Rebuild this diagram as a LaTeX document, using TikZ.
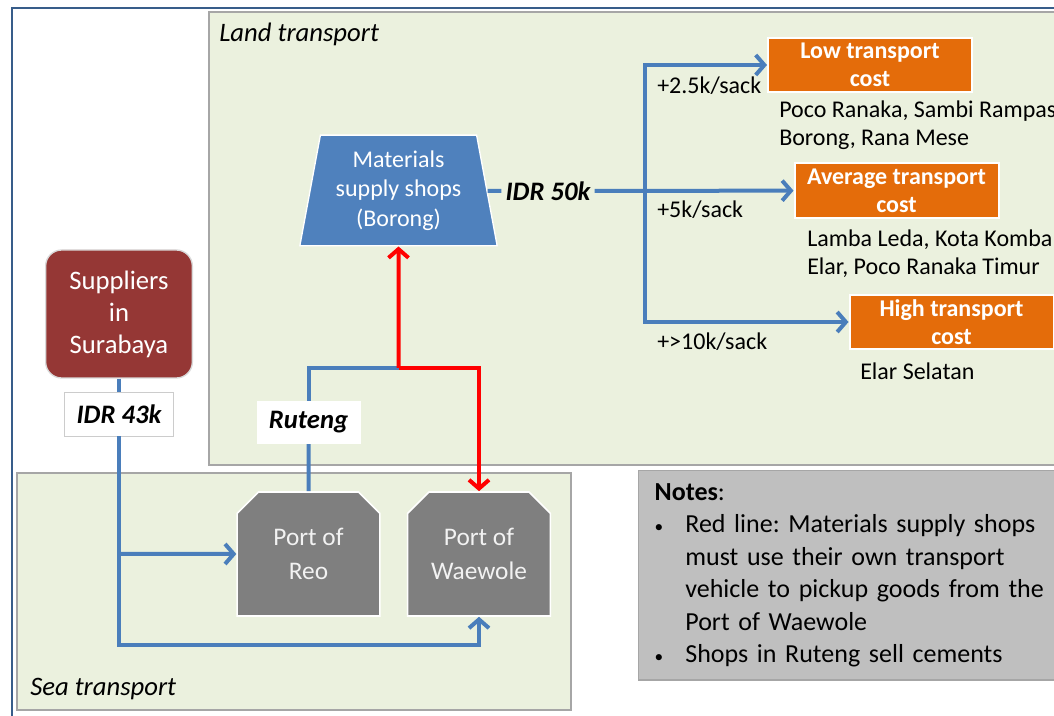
\documentclass[tikz,border=0pt]{standalone}
\usepackage{fontspec}
\setmainfont{Carlito}
\usetikzlibrary{arrows.meta,shapes.geometric,shapes.misc,positioning,calc}
\definecolor{zonefill}{HTML}{EBF1DE}
\definecolor{zoneline}{HTML}{A6A6A6}
\definecolor{shopblue}{HTML}{4F81BD}
\definecolor{lineblue}{HTML}{4A7EBB}
\definecolor{costorange}{HTML}{E46C0A}
\definecolor{supred}{HTML}{953735}
\definecolor{portgray}{HTML}{7F7F7F}
\definecolor{porttext}{HTML}{F2F2F2}
\definecolor{notegray}{HTML}{BFBFBF}
\definecolor{frameblue}{HTML}{385D8A}
\newcommand\notebullet{\makebox[23pt][l]{\fontsize{13}{13}\selectfont\textbullet}}
\frenchspacing

\begin{document}
\begin{tikzpicture}[x=0.75pt, y=-0.75pt,
    zone/.style={draw=zoneline, fill=zonefill, line width=1pt},
    zonelbl/.style={anchor=west, inner sep=0pt, font=\fontsize{20}{24}\selectfont\itshape},
    shopbox/.style={trapezium, trapezium left angle=75.5, trapezium right angle=75.5, trapezium stretches body,
        minimum width=148pt, minimum height=83pt, inner sep=0pt, fill=shopblue, draw=white, line width=1pt,
        text=white, align=center, font=\fontsize{18}{22}\selectfont},
    portbox/.style={chamfered rectangle, chamfered rectangle corners={north west,north east},
        chamfered rectangle xsep=5pt, chamfered rectangle ysep=11pt, minimum width=107pt, minimum height=93pt,
        inner sep=0pt, fill=portgray, draw=white, line width=1.2pt, text=porttext, align=center,
        font=\fontsize{19}{25.5}\selectfont},
    supbox/.style={rounded corners=12pt, minimum width=110pt, minimum height=96pt, fill=supred,
        draw=black!15, line width=1pt, text=white, align=center, font=\fontsize{20}{24}\selectfont},
    costbox/.style={minimum width=153pt, minimum height=41pt, inner sep=0pt, fill=costorange, draw=white,
        line width=1.5pt, text=white, align=center, font=\fontsize{18}{21}\selectfont\bfseries},
    pricebox/.style={inner sep=3pt, font=\fontsize{20}{24}\selectfont\bfseries\itshape},
    town/.style={anchor=west, inner sep=0pt, align=left, font=\fontsize{18}{21}\selectfont},
    rate/.style={anchor=west, inner sep=0pt, font=\fontsize{18}{21}\selectfont},
    link/.style={draw=lineblue, line width=3pt},
    arr/.style={link, -{Straight Barb[length=6.5pt,width=15pt]}},
    redarr/.style={draw=red, line width=3pt, -{Straight Barb[length=6.5pt,width=15pt]}},
    notebox/.style={anchor=north west, fill=notegray, draw=zoneline, line width=1pt, minimum width=324pt,
        minimum height=157pt, inner xsep=9.75pt, text width=300pt, align=left, font=\fontsize{19.5}{24.4}\selectfont}
]
\useasboundingbox (0,0) rectangle (1054,716);
\fill[white] (0,0) rectangle (1054,716);
\draw[frameblue, line width=2pt] (12,740) -- (12,8) -- (1080,8);

% zones
\draw[zone] (209,12) rectangle (1080,465);
\node[zonelbl] (landlbl) at (219,34) {Land transport};
\draw[zone] (17,473) rectangle (571,710);
\node[zonelbl] (sealbl) at (30,689) {Sea transport};

% nodes
\node[supbox] (sup) at (119,314) {Suppliers\\in\\Surabaya};
\node[pricebox, fill=white, draw=black!20, minimum width=82pt, minimum height=33pt] (idr43) at (119,414) {IDR 43k};
\node[portbox] (reo) at (308.5,554) {Port of\\Reo};
\node[portbox] (waewole) at (479,554) {Port of\\Waewole};
\node[pricebox, fill=white, minimum width=78pt, minimum height=32pt] (ruteng) at (308.5,422.5) {Ruteng};
\node[shopbox] (shop) at (398.5,190.5) {Materials\\supply shops\\(Borong)};
\node[pricebox] (idr50) at (548,191) {IDR 50k};
\node[costbox] (low) at (870,65) {Low transport\\cost};
\node[costbox] (avg) at (896.5,190.5) {Average transport\\cost};
\node[costbox] (high) at (951.5,322) {High transport\\cost};

\coordinate (low43) at (119,645);
\coordinate (split) at (119,554);
\coordinate (join) at (398.5,368);
\coordinate (fork) at (645,191);

% rates and towns
\node[rate] (r1) at (657,86) {+2.5k/sack};
\node[rate] (r2) at (657,210) {+5k/sack};
\node[rate] (r3) at (657,342) {+>10k/sack};
\node[town] (t1) at (779,125) {Poco Ranaka, Sambi Rampas\\Borong, Rana Mese};
\node[town] (t2) at (807,253.5) {Lamba Leda, Kota Komba\\Elar, Poco Ranaka Timur};
\node[town] (t3) at (860,371) {Elar Selatan};

% connectors
\draw[link] (sup) -- (idr43);
\draw[arr] (idr43) -- (low43) -| (waewole);
\draw[arr] (split) -- (reo);
\draw[link] (reo) -- (ruteng);
\draw[link] (ruteng) |- (join);
\draw[redarr] (join) -- (shop);
\draw[redarr] (join) -| (waewole);
\draw[link] (shop) -- (idr50);
\draw[arr] (idr50) -- (avg);
\draw[arr] (fork) |- (low);
\draw[arr] (fork) |- (high);

% notes
\node[notebox] (notes) at (638,470) {\textbf{Notes}:\\
\notebullet Red line: Materials supply shops\\
\hspace*{23pt}must use their own transport\\
\hspace*{23pt}vehicle to pickup goods from the\\
\hspace*{23pt}Port of Waewole\\
\notebullet Shops in Ruteng sell cements};
\end{tikzpicture}
\end{document}
